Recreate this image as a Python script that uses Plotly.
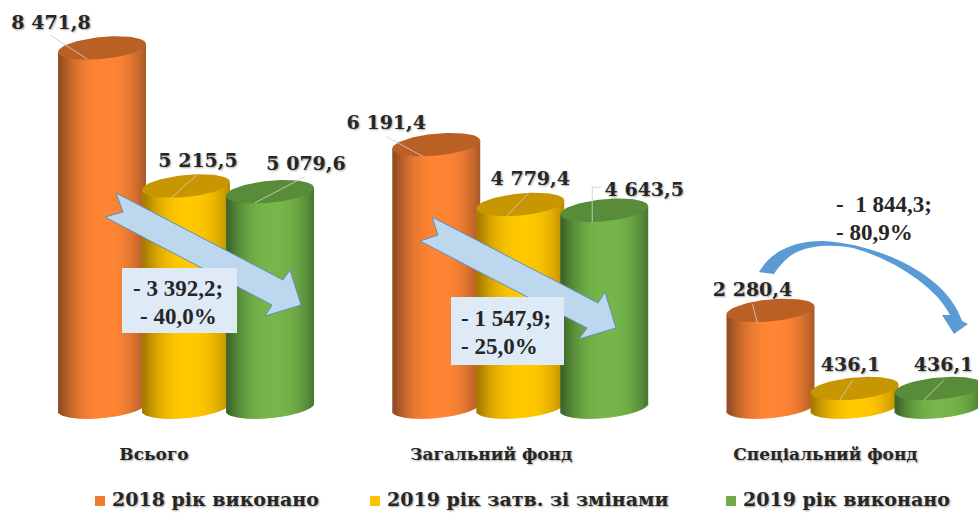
import numpy as np
import plotly.graph_objects as go

# ---------- data ----------
categories = ["Всього", "Загальний фонд", "Спеціальний фонд"]
series_names = ["2018 рік виконано", "2019 рік затв. зі змінами", "2019 рік виконано"]
values_2018 = [8471.8, 6191.4, 2280.4]
values_2019_plan = [5215.5, 4779.4, 436.1]
values_2019_done = [5079.6, 4643.5, 436.1]
changes_total = ["- 3 392,2;", "- 40,0%"]
changes_general = ["- 1 547,9;", "- 25,0%"]
changes_special = ["-  1 844,3;", "- 80,9%"]

series_values = [values_2018, values_2019_plan, values_2019_done]

# ---------- geometry / style ----------
W, H = 978, 514
BASE_PX, PX_PER_UNIT = 407.0, 0.04238
GROUP_STEP, SERIES_STEP, FIRST_CX = 334.25, 84.0, 102.0
RX, RY, TILT = 44.0, 11.0, -8.0 / 88.0
SLICE = 1.0
COLORS = [
    dict(bright=(255, 133, 52), edge=(150, 78, 36), top="#BA6024", key="#ED7D31"),
    dict(bright=(255, 200, 0), edge=(170, 125, 0), top="#C79600", key="#FFC000"),
    dict(bright=(118, 182, 74), edge=(62, 105, 42), top="#598C38", key="#70AD47"),
]
LABEL_DY = 2
LABEL_OFF = [
    [(-51, -26), (-50, -22), (-18, -21)],
    [(12, -26), (10, -26), (-4, -24)],
    [(36, -28), (40, -21), (5, -24)],
]
LEADERS = [
    [[(-52, -13), (-15, 11)], [(-50, -8), (-13, 12)], [(-18, -6), (-13, 13)]],
    [[(12, -12), (-15, 12)], [(10, -13), (-14, 12)], [(-2, -8), (-15, 12)]],
    [[(35, -15), (-15, 11)], [(-3, -23), (-12, -23), (-12, 12)], [(5, -8), (-15, 12)]],
]
LEGEND_X = [100, 375, 731]
LEGEND_TEXT_GAP = 12
LEGEND_Y = 501
LABEL_FONT = dict(family="DejaVu Serif", size=19, color="#262626", weight="bold",
                  shadow="1px 1px 2px rgba(0,0,0,0.35)")
BOX_FONT = dict(family="Liberation Serif", size=23, color="#262626", weight="bold")


def val(p):
    """vertical page position -> value on the y axis"""
    return (BASE_PX - p) / PX_PER_UNIT


def fmt(v):
    whole, dec = f"{v:.1f}".split(".")
    if len(whole) > 3:
        whole = whole[:-3] + " " + whole[-3:]
    return whole + "," + dec


def shade(t, c):
    k = np.clip(abs(2 * t - 1.08), 0, 1) ** 2.4
    rgb = [int(round(c["bright"][i] + (c["edge"][i] - c["bright"][i]) * k)) for i in range(3)]
    return f"rgb({rgb[0]},{rgb[1]},{rgb[2]})"


fig = go.Figure()
offs = np.arange(-RX + SLICE, RX, SLICE)
ry_val = RY / PX_PER_UNIT
tilt_val = -TILT / PX_PER_UNIT

# cylinder bodies: each cylinder is a run of thin bars, shaded across its width
for s, vals in enumerate(series_values):
    xs, base, heights, cols = [], [], [], []
    for g, v in enumerate(vals):
        cx = FIRST_CX + GROUP_STEP * g + SERIES_STEP * s
        for d in offs:
            curve = ry_val * np.sqrt(max(1 - (d / RX) ** 2, 0))
            slope = tilt_val * d
            xs.append(cx + d)
            base.append(slope - curve)
            heights.append(v + curve)
            cols.append(shade((d + RX) / (2 * RX), COLORS[s]))
    fig.add_bar(x=xs, y=heights, base=base, width=2.0,
                marker=dict(color=cols, line=dict(width=0)),
                name=series_names[s], showlegend=False, hoverinfo="skip")

# cylinder tops
ang = np.linspace(0, 2 * np.pi, 90)
for s, vals in enumerate(series_values):
    for g, v in enumerate(vals):
        cx = FIRST_CX + GROUP_STEP * g + SERIES_STEP * s
        ex = RX * np.cos(ang)
        ey = v + tilt_val * ex + ry_val * np.sin(ang)
        fig.add_scatter(x=cx + ex, y=ey, mode="lines", fill="toself",
                        fillcolor=COLORS[s]["top"], line=dict(width=0),
                        showlegend=False, hoverinfo="skip")

# leader lines and value labels
for s, vals in enumerate(series_values):
    for g, v in enumerate(vals):
        cx = FIRST_CX + GROUP_STEP * g + SERIES_STEP * s
        pts = LEADERS[s][g]
        fig.add_scatter(x=[cx + p[0] for p in pts],
                        y=[v - p[1] / PX_PER_UNIT for p in pts],
                        mode="lines", line=dict(color="rgba(205,205,205,0.85)", width=1),
                        showlegend=False, hoverinfo="skip")
    fig.add_scatter(
        x=[FIRST_CX + GROUP_STEP * g + SERIES_STEP * s + LABEL_OFF[s][g][0] for g in range(3)],
        y=[v - (LABEL_OFF[s][g][1] + LABEL_DY) / PX_PER_UNIT for g, v in enumerate(vals)],
        mode="text", text=[fmt(v) for v in vals], textposition="middle center",
        textfont=LABEL_FONT, showlegend=False, hoverinfo="skip", cliponaxis=False)

# key along the bottom
for s, name in enumerate(series_names):
    fig.add_scatter(x=[LEGEND_X[s]], y=[val(LEGEND_Y)], mode="markers",
                    marker=dict(symbol="square", size=10, color=COLORS[s]["key"]),
                    name=name, showlegend=False, hoverinfo="skip")
    fig.add_scatter(x=[LEGEND_X[s] + LEGEND_TEXT_GAP], y=[val(LEGEND_Y)], mode="text",
                    text=[name], textposition="middle right",
                    textfont=LABEL_FONT, showlegend=False, hoverinfo="skip")


def poly(points):
    return "M " + " L ".join(f"{x},{val(y):.2f}" for x, y in points) + " Z"


ARROW_FILL, ARROW_LINE = "#BDD7EE", "#5F8FB8"
arrow1 = [(116, 193), (283, 280), (290, 270), (301, 305), (265, 316), (272, 305), (105, 217), (123, 212)]
arrow2 = [(432, 217), (598, 303), (605, 292), (616, 328), (579, 339), (587, 328), (420, 241), (438, 235)]
shapes = [dict(type="path", path=poly(a), fillcolor=ARROW_FILL, layer="above",
               line=dict(color=ARROW_LINE, width=1), xref="x", yref="y") for a in (arrow1, arrow2)]
for x0, x1, y0, y1 in [(122, 237, 268, 333), (451, 564, 297, 365)]:
    shapes.append(dict(type="rect", x0=x0, x1=x1, y0=val(y0), y1=val(y1), xref="x", yref="y",
                       fillcolor="#DEEAF6", line=dict(width=0), layer="above"))


def P(x, y):
    return f"{x},{val(y):.2f}"


curve = (f"M {P(759,272)} C {P(772,250)} {P(795,241)} {P(823,241)} "
         f"C {P(870,243)} {P(945,270)} {P(962,321)} L {P(968,324)} L {P(954,334)} L {P(942,315)} L {P(950,315)} "
         f"C {P(935,285)} {P(890,258)} {P(853,248)} C {P(835,245)} {P(815,244)} {P(797,252)} "
         f"C {P(788,256)} {P(780,265)} {P(774,274)} Z")
shapes.append(dict(type="path", path=curve, fillcolor="#5B9BD5", line=dict(width=0),
                   layer="above", xref="x", yref="y"))

annots = []
def note(text, x, y, anchor):
    annots.append(dict(text=text, x=x, y=val(y), xref="x", yref="y", showarrow=False,
                       xanchor=anchor, yanchor="middle", font=BOX_FONT))

note(changes_total[0], 178, 288, "center")
note(changes_total[1], 178, 316, "center")
note(changes_general[0], 459, 318, "left")
note(changes_general[1], 459, 346, "left")
note(changes_special[0], 834, 204, "left")
note(changes_special[1], 834, 232, "left")

centers = [FIRST_CX + GROUP_STEP * g + SERIES_STEP + d for g, d in zip(range(3), (-32, -29, -29))]
fig.update_layout(
    width=W, height=H,
    margin=dict(l=0, r=0, t=0, b=0), autosize=False,
    paper_bgcolor="white", plot_bgcolor="white", barmode="overlay", showlegend=False,
    shapes=shapes, annotations=annots,
    xaxis=dict(range=[0, W], showgrid=False, zeroline=False, showline=False, ticks="",
               tickmode="array", tickvals=centers, ticktext=categories,
               tickfont=dict(LABEL_FONT, size=17), anchor="free", position=(H - 442) / H,
               fixedrange=True),
    yaxis=dict(range=[val(H), val(0)], visible=False, fixedrange=True),
)
fig.write_html("out.html", config=dict(displayModeBar=False),
               post_script="document.body.style.margin='0';document.documentElement.style.overflow='hidden';")
